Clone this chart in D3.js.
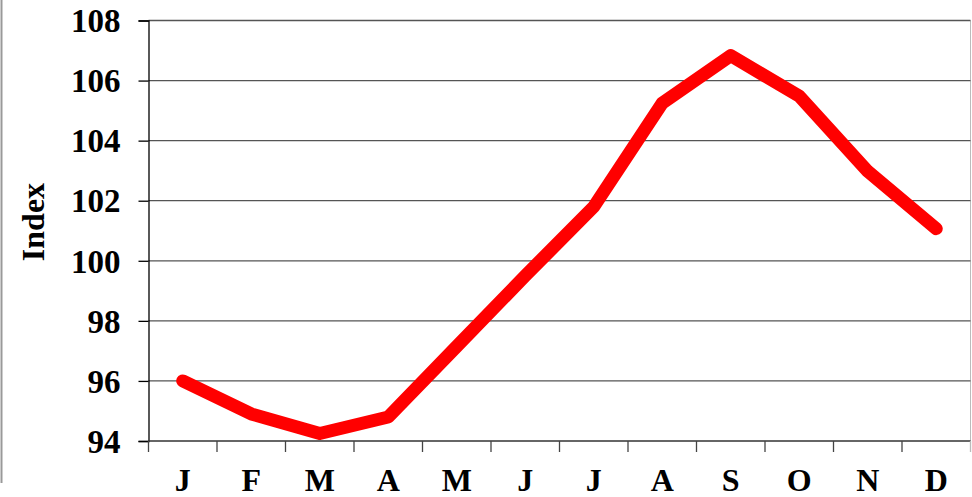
<!DOCTYPE html>
<html>
<head>
<meta charset="utf-8">
<script src="https://cdn.jsdelivr.net/npm/d3@7"></script>
<style>
  body { margin: 0; background: #fff; }
  svg { display: block; }
  text { font-family: "Liberation Serif", "Times New Roman", serif; font-weight: bold; }
</style>
</head>
<body>
<svg width="972" height="497"></svg>
<script>
var months = ["J", "F", "M", "A", "M", "J", "J", "A", "S", "O", "N", "D"];
var indexValues = [96.0, 94.9, 94.25, 94.8, 97.15, 99.5, 101.8, 105.25, 106.83, 105.48, 102.98, 101.07];
var yTicks = [94, 96, 98, 100, 102, 104, 106, 108];

function main() {
    var svg = d3.select("svg");
    var left = 148.5, right = 970.5, top = 20.5, bottom = 441;

    // left frame line of the picture
    svg.append("line")
        .attr("x1", 1.5).attr("x2", 1.5)
        .attr("y1", 0).attr("y2", 483)
        .attr("stroke", "#999").attr("stroke-width", 2);

    var x = d3.scaleBand()
        .domain(d3.range(months.length))
        .range([left, right])
        .padding(0);

    var y = d3.scaleLinear()
        .domain([94, 108])
        .range([bottom, top]);

    // plot area right border
    svg.append("line")
        .attr("x1", right).attr("x2", right)
        .attr("y1", top).attr("y2", bottom)
        .attr("stroke", "#bbb").attr("stroke-width", 1);

    // gridlines
    svg.append("g")
        .selectAll("line")
        .data(yTicks.slice(1))
        .enter().append("line")
        .attr("x1", left).attr("x2", right)
        .attr("y1", function(d) { return y(d); })
        .attr("y2", function(d) { return y(d); })
        .attr("stroke", "#555")
        .attr("stroke-width", 1.3);

    // Y axis
    var yAxis = svg.append("g")
        .attr("transform", "translate(" + left + ",0)")
        .call(d3.axisLeft(y).tickValues(yTicks).tickSize(10).tickPadding(18).tickFormat(d3.format("d")));
    yAxis.select(".domain").attr("stroke", "#000").attr("stroke-width", 1.3);
    yAxis.selectAll(".tick line").attr("stroke", "#000").attr("stroke-width", 1.3);
    yAxis.selectAll("text")
        .attr("font-size", "33px")
        .attr("font-family", "Liberation Serif, Times New Roman, serif")
        .attr("font-weight", "bold")
        .attr("fill", "#000")
        .attr("dy", "0.34em");

    // X axis: ticks between categories
    var xg = svg.append("g");
    xg.append("line")
        .attr("x1", left).attr("x2", right)
        .attr("y1", bottom).attr("y2", bottom)
        .attr("stroke", "#333").attr("stroke-width", 1.5);
    xg.selectAll(".xtick")
        .data(d3.range(months.length + 1))
        .enter().append("line")
        .attr("class", "xtick")
        .attr("x1", function(i) { return i < months.length ? x(i) : right; })
        .attr("x2", function(i) { return i < months.length ? x(i) : right; })
        .attr("y1", bottom).attr("y2", bottom + 11)
        .attr("stroke", function(i) { return i < months.length ? "#444" : "#bbb"; })
        .attr("stroke-width", 1.3);
    xg.selectAll(".xlabel")
        .data(months)
        .enter().append("text")
        .attr("class", "xlabel")
        .attr("x", function(d, i) { return x(i) + x.bandwidth() / 2; })
        .attr("y", 491)
        .attr("text-anchor", "middle")
        .attr("font-size", "32px")
        .attr("fill", "#000")
        .text(function(d) { return d; });

    // Y axis title
    svg.append("text")
        .attr("transform", "translate(44,222) rotate(-90)")
        .attr("text-anchor", "middle")
        .attr("font-size", "32px")
        .attr("fill", "#000")
        .text("Index");

    // line
    var line = d3.line()
        .x(function(d, i) { return x(i) + x.bandwidth() / 2; })
        .y(function(d) { return y(d); });

    svg.append("path")
        .datum(indexValues)
        .attr("d", line)
        .attr("fill", "none")
        .attr("stroke", "#ff0000")
        .attr("stroke-width", 13)
        .attr("stroke-linecap", "round")
        .attr("stroke-linejoin", "round");
}
main();
</script>
</body>
</html>
